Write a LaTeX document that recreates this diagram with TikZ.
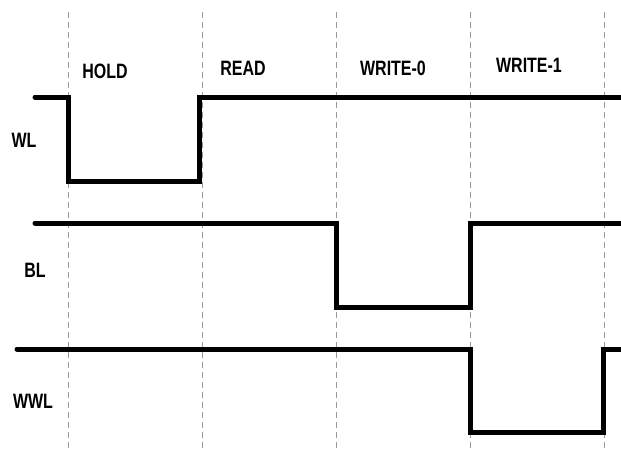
\documentclass[tikz,border=0pt]{standalone}
\usepackage{fontspec}
\setmainfont{Liberation Sans}
\begin{document}
\begin{tikzpicture}[x=1pt,y=-1pt,
  wave/.style={line width=5pt,line cap=round,line join=miter},
  grid/.style={gray!80,line width=0.9pt,dash pattern=on 6pt off 4pt},
  lbl/.style={font=\fontsize{16}{16}\selectfont\bfseries,inner sep=0pt}]
\useasboundingbox (0,0) rectangle (621,451);
\foreach \x in {68,202,336,470,604} \draw[grid] (\x,12) -- (\x,451);
\draw[wave] (35,97) -- (68,97) -- (68,181) -- (199,181) -- (199,97) -- (621,97);
\draw[wave] (35,223) -- (336,223) -- (336,307) -- (470,307) -- (470,223) -- (621,223);
\draw[wave] (17,349) -- (470,349) -- (470,432) -- (603,432) -- (603,349) -- (621,349);
\node[lbl] (hold) at (105,71) {\scalebox{1}[1.3]{HOLD}};
\node[lbl] (read) at (243,68) {\scalebox{1}[1.3]{READ}};
\node[lbl] (w0) at (393,68) {\scalebox{1}[1.3]{WRITE-0}};
\node[lbl] (w1) at (529,65) {\scalebox{1}[1.3]{WRITE-1}};
\node[lbl] (wl) at (24,140) {\scalebox{1}[1.3]{WL}};
\node[lbl] (bl) at (35,270) {\scalebox{1}[1.3]{BL}};
\node[lbl] (wwl) at (33,401) {\scalebox{1}[1.3]{WWL}};
\end{tikzpicture}
\end{document}
